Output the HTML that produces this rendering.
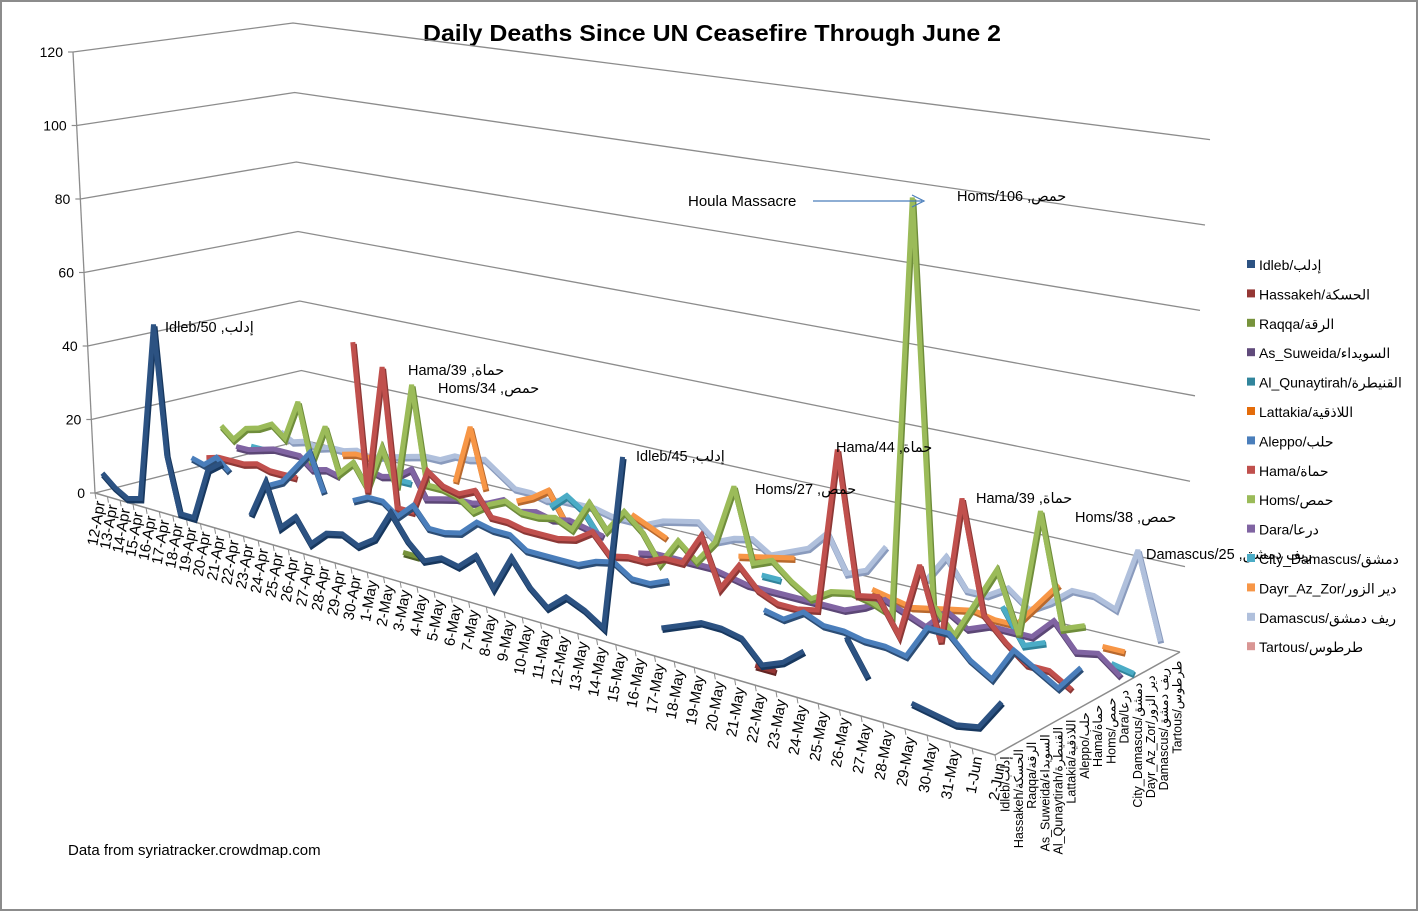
<!DOCTYPE html>
<html><head><meta charset="utf-8"><style>
html,body{margin:0;padding:0;background:#fff;}
svg{display:block;font-family:"Liberation Sans","DejaVu Sans",sans-serif;}
</style></head><body>
<svg id="chart" width="1419" height="912" viewBox="0 0 1419 912" xmlns="http://www.w3.org/2000/svg">
<rect x="1" y="1" width="1416" height="909" fill="#fff" stroke="#8c8c8c" stroke-width="2"/>
<text x="712" y="41" text-anchor="middle" font-size="23" font-weight="bold" textLength="578" lengthAdjust="spacingAndGlyphs">Daily Deaths Since UN Ceasefire Through June 2</text>
<g id="walls"></g>
<g id="axes"></g>
<g id="series"></g>
<g id="labels">
<text x="165" y="332" font-size="14.5">Idleb/50 ,إدلب</text>
<text x="408" y="375" font-size="14.5">Hama/39 ,حماة</text>
<text x="438" y="393" font-size="14.5">Homs/34 ,حمص</text>
<text x="636" y="461" font-size="14.5">Idleb/45 ,إدلب</text>
<text x="755" y="494" font-size="14.5">Homs/27 ,حمص</text>
<text x="836" y="452" font-size="14.5">Hama/44 ,حماة</text>
<text x="957" y="201" font-size="14.5">Homs/106 ,حمص</text>
<text x="976" y="503" font-size="14.5">Hama/39 ,حماة</text>
<text x="1075" y="522" font-size="14.5">Homs/38 ,حمص</text>
<text x="1146" y="559" font-size="14.5">Damascus/25 ,ريف دمشق</text>
<text x="688" y="206" font-size="15">Houla Massacre</text>
<line x1="813" y1="201" x2="922" y2="201" stroke="#4a7ebb" stroke-width="1.2"/>
<path d="M912,195 L924,201 L912,207" fill="none" stroke="#4a7ebb" stroke-width="1.2"/>
</g>
<g id="legend"></g>
<text x="68" y="855" font-size="15">Data from syriatracker.crowdmap.com</text>
</svg>
<script>
const dates = ["12-Apr","13-Apr","14-Apr","15-Apr","16-Apr","17-Apr","18-Apr","19-Apr","20-Apr","21-Apr","22-Apr","23-Apr","24-Apr","25-Apr","26-Apr","27-Apr","28-Apr","29-Apr","30-Apr","1-May","2-May","3-May","4-May","5-May","6-May","7-May","8-May","9-May","10-May","11-May","12-May","13-May","14-May","15-May","16-May","17-May","18-May","19-May","20-May","21-May","22-May","23-May","24-May","25-May","26-May","27-May","28-May","29-May","30-May","31-May","1-Jun","2-Jun"];
const seriesNames = ["Idleb/إدلب","Hassakeh/الحسكة","Raqqa/الرقة","As_Suweida/السويداء","Al_Qunaytirah/القنيطرة","Lattakia/اللاذقية","Aleppo/حلب","Hama/حماة","Homs/حمص","Dara/درعا","City_Damascus/دمشق","Dayr_Az_Zor/دير الزور","Damascus/ريف دمشق","Tartous/طرطوس"];
const yTicks = [0,20,40,60,80,100,120];
const N = null;
const idleb = [5,2,0,1,50,15,0,0,14,17,N,5,15,4,8,2,6,7,5,8,16,10,6,8,7,11,4,13,7,3,7,5,2,45,N,6,8,10,10,9,4,6,10,N,16,8,N,5,4,3,4,11];
const hassakeh = [N,N,N,N,N,N,N,N,N,N,N,N,N,N,N,N,N,N,N,N,N,N,N,N,N,N,N,N,N,N,N,N,N,N,N,N,N,N,N,1,1,N,N,N,N,N,N,N,N,N,N,N];
const raqqa = [N,N,N,N,N,N,N,N,N,N,N,N,N,N,N,N,N,N,N,2,2,N,N,N,N,N,N,N,N,N,N,N,N,N,N,N,N,N,N,N,N,N,N,N,N,N,N,N,N,N,N,N];
const suweida = [N,N,N,N,N,N,N,N,N,N,N,N,N,N,N,N,N,N,N,N,N,N,N,N,N,N,N,N,N,N,N,N,N,N,N,N,N,N,N,N,N,N,N,N,N,N,N,N,N,N,N,N];
const qunaytirah = [N,N,N,N,N,N,N,N,N,N,N,N,N,N,N,N,N,N,N,N,N,N,N,N,N,N,N,N,N,N,N,N,N,N,N,N,N,N,N,N,N,N,N,N,N,N,N,N,N,N,N,N];
const lattakia = [N,N,N,N,N,N,N,N,N,N,N,N,N,N,N,N,N,N,N,N,N,N,N,N,N,N,N,N,N,N,N,N,N,N,N,N,N,N,N,N,N,N,N,N,N,N,N,N,N,N,N,N];
const aleppo = [3,2,5,2,N,N,1,3,8,13,3,N,3,5,5,2,6,1,1,2,6,5,5,2,2,2,2,4,5,2,2,4,N,N,N,N,3,2,5,3,3,2,2,1,9,9,4,1,9,6,3,9];
const hama = [2,3,3,3,4,3,3,3,N,N,N,44,4,39,2,2,14,11,10,12,6,6,5,5,5,6,9,4,5,5,7,7,15,3,10,5,3,3,4,44,10,11,3,21,4,39,13,8,4,4,1,N];
const homs = [10,7,11,12,14,11,22,6,17,5,9,3,15,5,34,8,8,7,4,7,9,7,7,8,6,14,8,14,10,3,10,6,12,27,9,11,7,4,7,8,7,5,106,10,4,13,22,8,38,12,14,N];
const dara = [3,3,4,5,5,5,2,3,2,N,6,5,6,9,2,3,4,4,5,7,5,6,5,6,5,4,N,2,3,3,3,3,2,1,1,1,1,1,1,3,6,4,2,7,4,6,6,6,11,5,6,2];
const cityDamascus = [2,2,N,N,N,N,N,N,N,N,N,3,3,N,N,N,N,N,N,N,N,6,10,7,1,N,N,N,N,N,N,N,N,2,2,N,N,N,N,N,N,N,N,N,N,9,1,3,N,N,2,1];
const dayr = [N,N,N,N,N,N,4,5,5,N,N,N,N,N,4,20,4,N,3,5,8,1,N,N,N,7,5,3,N,N,N,3,4,5,6,N,N,N,3,2,1,2,3,4,3,3,9,15,N,3,3,N];
const damascus = [4,2,3,2,3,3,4,3,4,5,6,7,7,9,9,10,7,4,4,3,4,4,4,3,3,3,5,6,7,3,5,6,3,5,7,12,3,5,12,N,6,13,6,6,9,5,8,12,12,10,25,5];
const tartous = [N,N,N,N,N,N,N,N,N,N,N,N,N,N,N,N,N,N,N,N,N,N,N,N,N,N,N,N,N,N,N,N,N,N,N,N,N,N,N,N,N,N,N,N,N,N,N,N,N,N,N,N];

const allSeries = [idleb,hassakeh,raqqa,suweida,qunaytirah,lattakia,aleppo,hama,homs,dara,cityDamascus,dayr,damascus,tartous];
const colors = ["#2c5282","#953735","#77933c","#604a7b","#31859c","#e46c0a","#4a7ebb","#c0504d","#9bbb59","#8064a2","#4bacc6","#f79646","#b0c0dc","#d99694"];
const shades = ["#17375e","#632523","#4f6228","#3f3151","#215968","#984807","#2c4d75","#8c3836","#6f8d3b","#5c4776","#31849b","#b8692e","#8a9bbd","#b07270"];

const NS = "http://www.w3.org/2000/svg";
const FL=[95,493], FR=[995,755], BL=[303,440], BR=[1180,652];
function warp(t){ return 0.70*t + 0.30*t*t; }
function proj(j, depth, val){
  const w = warp(j/(dates.length-1));
  const v = depth;
  const fx = FL[0]+(FR[0]-FL[0])*w, fy = FL[1]+(FR[1]-FL[1])*w;
  const bx = BL[0]+(BR[0]-BL[0])*w, by = BL[1]+(BR[1]-BL[1])*w;
  const sF = 3.58+(4.5-3.58)*w, sB = 3.475+(4.3-3.475)*w;
  const s = sF+(sB-sF)*v;
  return [fx+(bx-fx)*v, fy+(by-fy)*v - val*s];
}
function mk(tag, attrs, parent){
  const e = document.createElementNS(NS, tag);
  for (const k in attrs) e.setAttribute(k, attrs[k]);
  parent.appendChild(e);
  return e;
}

const walls = document.getElementById('walls');
yTicks.forEach(function(val){
  const ax = 95 - val*(22/120), ay = 493 - val*3.675;
  const blx = 303 - val*(10/120), bly = 440 - val*3.475;
  const brx = 1180 + val*(30/120), bry = 652 - val*4.27;
  const pl = mk('polyline', {points: ax+','+ay+' '+blx+','+bly+' '+brx+','+bry, fill:'none', stroke:'#8c8c8c', 'stroke-width':'1.3'}, walls);
  
  
  const tk = mk('line', {x1:ax-5, y1:ay, x2:ax, y2:ay, stroke:'#8c8c8c', 'stroke-width':'1.2'}, walls);
  
  
  const tx = mk('text', {x:ax-10, y:ay+5, 'text-anchor':'end', 'font-size':'14'}, walls);
  tx.textContent = val;
  
  
});
const yAxis = mk('line', {x1:95, y1:493, x2:73, y2:52, stroke:'#8c8c8c', 'stroke-width':'1.3'}, walls);



const axes = document.getElementById('axes');
const fe = mk('polyline', {points: FL.join(',')+' '+FR.join(',')+' '+BR.join(','), fill:'none', stroke:'#8c8c8c', 'stroke-width':'1.5'}, axes);


dates.forEach(function(d, j){
  const p = proj(j, 0, 0);
  const tk = mk('line', {x1:p[0], y1:p[1], x2:p[0]+1, y2:p[1]+6, stroke:'#8c8c8c', 'stroke-width':'1'}, axes);
  
  
  const tx = mk('text', {x:0, y:0, 'text-anchor':'end', 'font-size':'15', transform:'translate('+(p[0]+10)+','+(p[1]+9)+') rotate(-80)'}, axes);
  tx.textContent = d;
  
  
});
seriesNames.forEach(function(n, i){
  const v = (i+0.5)/14;
  const x = FR[0]+(BR[0]-FR[0])*v, y = FR[1]+(BR[1]-FR[1])*v;
  const tx = mk('text', {x:0, y:0, 'text-anchor':'end', 'font-size':'12.5', transform:'translate('+(x+8)+','+(y+5)+') rotate(-90)'}, axes);
  tx.textContent = n;
  
  
});

const sg = document.getElementById('series');
for (let i = allSeries.length-1; i >= 0; i--){
  const data = allSeries[i];
  const v = (i+0.5)/14;
  let segs = [], cur = [];
  data.forEach(function(val, j){
    if (val === null){ if (cur.length) segs.push(cur); cur = []; }
    else cur.push(proj(j, v, val));
  });
  if (cur.length) segs.push(cur);
  segs.forEach(function(seg){
    if (seg.length < 2) return;
    const pts = seg.map(p => p[0].toFixed(1)+','+p[1].toFixed(1)).join(' ');
    const ptsS = seg.map(p => (p[0]+1).toFixed(1)+','+(p[1]+2).toFixed(1)).join(' ');
    const sh = mk('polyline', {points: ptsS, fill:'none', stroke: shades[i], 'stroke-width':'6', 'stroke-linejoin':'miter', 'stroke-miterlimit':'3'}, sg);
    
    
    const pl = mk('polyline', {points: pts, fill:'none', stroke: colors[i], 'stroke-width':'5', 'stroke-linejoin':'miter', 'stroke-miterlimit':'3'}, sg);
    
    
  });
}

const lg = document.getElementById('legend');
seriesNames.forEach(function(n, i){
  const y = 265 + i*29.4;
  const r = mk('rect', {x:1247, y:y-5, width:8, height:8, fill: colors[i]}, lg);
  
  
  const t = mk('text', {x:1259, y:y+5, 'font-size':'14'}, lg);
  t.textContent = n;
  
  
});
</script>
</body></html>
